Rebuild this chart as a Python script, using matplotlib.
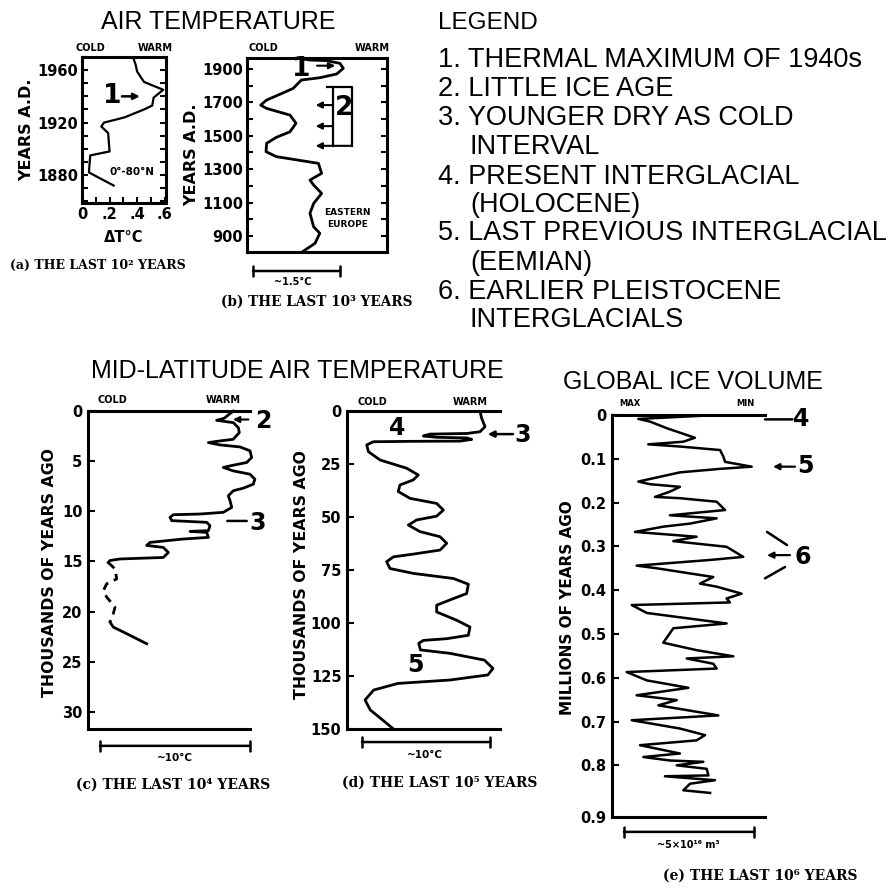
import matplotlib
matplotlib.use("Agg")
import matplotlib.pyplot as plt

# ---- data ----
# (a) last 100 years, 0-80N
years_a = [1970, 1964, 1959, 1951, 1945, 1939, 1933, 1930, 1924, 1920, 1917, 1912, 1898, 1895, 1882, 1872]
dt_a = [0.37, 0.39, 0.40, 0.45, 0.59, 0.52, 0.51, 0.45, 0.31, 0.16, 0.14, 0.19, 0.20, 0.06, 0.05, 0.23]

# (b) last 1000 years, eastern europe (x = fraction of box, cold -> warm)
years_b = [802, 856, 916, 955, 1036, 1095, 1155, 1205, 1235, 1275, 1335, 1359, 1375, 1405, 1455,
           1491, 1524, 1575, 1624, 1664, 1684, 1714, 1758, 1784, 1834, 1848, 1870, 1904, 1934,
           1950, 1954, 1958, 1962]
temp_b = [0.39, 0.486, 0.52, 0.476, 0.45, 0.476, 0.533, 0.476, 0.45, 0.533, 0.51, 0.33, 0.21, 0.136, 0.14,
          0.21, 0.307, 0.35, 0.307, 0.14, 0.098, 0.14, 0.26, 0.33, 0.388, 0.521, 0.64, 0.688, 0.664,
          0.569, 0.45, 0.414, 0.393]

# (c) last 10^4 years (thousands of years ago)
age_c = [0, 0.73, 0.93, 1.16, 1.66, 2.15, 2.82, 2.98, 3.15, 3.38, 3.58, 3.97, 4.64, 5.13, 5.47, 5.63,
         5.97, 6.3, 6.8, 7.3, 7.69, 7.95, 8.45, 8.95, 9.61, 10.1, 10.27, 10.34, 10.6, 10.93, 11.0,
         11.1, 11.43, 11.93, 12.0, 12.1, 12.6, 12.76, 13.1, 13.4, 13.6, 14.1, 14.6, 14.75, 14.9, 15.1]
temp_c = [0.897, 0.84, 0.794, 0.897, 0.928, 0.934, 0.897, 0.815, 0.743, 0.815, 0.938, 1.0, 1.01, 0.98,
          0.877, 0.835, 0.897, 1.0, 1.03, 1.02, 0.959, 0.897, 0.866, 0.877, 0.887, 0.835, 0.691, 0.527,
          0.506, 0.517, 0.609, 0.733, 0.753, 0.743, 0.63, 0.733, 0.743, 0.588, 0.383, 0.362, 0.465,
          0.496, 0.465, 0.198, 0.136, 0.125]
age_c_dash = [15.1, 15.74, 16.74, 17.23, 17.9, 18.55, 19.55, 20.2, 21.04]
temp_c_dash = [0.125, 0.167, 0.177, 0.115, 0.095, 0.115, 0.167, 0.156, 0.136]
age_c_old = [21.04, 21.54, 22.2, 23.2]
temp_c_old = [0.136, 0.156, 0.239, 0.362]

# (d) last 10^5 years
age_d = [0, 3.4, 7.4, 9.8, 10.6, 10.9, 11.8, 12.4, 12.7, 13.4, 14.2, 14.3, 14.5, 16.0, 19.2, 23.1,
         27.0, 30.2, 32.5, 34.9, 38.0, 41.2, 43.6, 46.7, 49.6, 51.4, 53.8, 56.9, 59.3, 62.4, 65.6,
         67.5, 68.8, 71.1, 74.3, 76.6, 79.0, 81.7, 86.1, 88.5, 91.6, 94.8, 98.7, 101.9, 105.8, 107.4,
         108.2, 109.6, 112.7, 114.3, 117.5, 121.4, 124.5, 126.9, 128.5, 131.6, 136.3, 141, 145, 149.7]
temp_d = [0.869, 0.88, 0.902, 0.869, 0.782, 0.542, 0.499, 0.586, 0.782, 0.815, 0.739, 0.433, 0.172,
          0.129, 0.14, 0.216, 0.39, 0.466, 0.433, 0.346, 0.335, 0.412, 0.586, 0.63, 0.586, 0.455,
          0.401, 0.477, 0.608, 0.652, 0.608, 0.433, 0.303, 0.259, 0.281, 0.433, 0.695, 0.793, 0.782,
          0.695, 0.586, 0.586, 0.717, 0.804, 0.793, 0.652, 0.5, 0.469, 0.48, 0.672, 0.898, 0.954,
          0.921, 0.672, 0.333, 0.175, 0.118, 0.152, 0.22, 0.299]

# (e) global ice volume, last 10^6 years (x = fraction of box, max -> min)
age_e = [0, 0.009, 0.015, 0.03, 0.052, 0.061, 0.067, 0.072, 0.08, 0.095, 0.107, 0.118, 0.123, 0.131,
         0.152, 0.158, 0.164, 0.175, 0.187, 0.19, 0.198, 0.217, 0.229, 0.236, 0.248, 0.255, 0.267,
         0.278, 0.288, 0.301, 0.324, 0.331, 0.344, 0.35, 0.37, 0.385, 0.392, 0.408, 0.419, 0.428,
         0.434, 0.452, 0.476, 0.487, 0.52, 0.537, 0.551, 0.556, 0.568, 0.579, 0.587, 0.606, 0.623,
         0.64, 0.651, 0.663, 0.686, 0.697, 0.716, 0.731, 0.743, 0.754, 0.773, 0.781, 0.789, 0.792,
         0.8, 0.808, 0.823, 0.825, 0.834, 0.842, 0.857, 0.863]
ice_e = [0.684, 0.172, 0.248, 0.357, 0.542, 0.466, 0.237, 0.444, 0.706, 0.728, 0.739, 0.913, 0.706,
         0.444, 0.172, 0.248, 0.444, 0.379, 0.281, 0.444, 0.684, 0.739, 0.379, 0.684, 0.51, 0.335,
         0.15, 0.553, 0.401, 0.749, 0.858, 0.641, 0.161, 0.292, 0.662, 0.575, 0.684, 0.847, 0.749,
         0.771, 0.129, 0.227, 0.749, 0.401, 0.335, 0.553, 0.793, 0.488, 0.662, 0.684, 0.096, 0.227,
         0.499, 0.161, 0.423, 0.303, 0.695, 0.129, 0.444, 0.608, 0.553, 0.183, 0.444, 0.205, 0.379,
         0.597, 0.423, 0.619, 0.63, 0.346, 0.673, 0.51, 0.466, 0.641]

legend_lines = ["1. THERMAL MAXIMUM OF 1940s", "2. LITTLE ICE AGE", "3. YOUNGER DRY AS COLD",
                "    INTERVAL", "4. PRESENT INTERGLACIAL", "    (HOLOCENE)",
                "5. LAST PREVIOUS INTERGLACIAL", "    (EEMIAN)", "6. EARLIER PLEISTOCENE",
                "    INTERGLACIALS"]

# ---- figure ----
W, H = 889, 888
fig = plt.figure(figsize=(W / 100, H / 100), dpi=100)
SANS = ["Liberation Sans", "DejaVu Sans"]
NARROW = ["Liberation Sans Narrow", "DejaVu Sans"]
SERIF = ["DejaVu Serif"]
LW = 2.2


def box(l, t, r, b):
    return [l / W, 1 - b / H, (r - l) / W, (b - t) / H]


def put(px, py, s, **kw):
    kw.setdefault("ha", "center")
    kw.setdefault("va", "center")
    fig.text(px / W, 1 - py / H, s, **kw)


def small(px, py, s, size=7):
    put(px, py, s, fontsize=size, fontweight="bold")


def num(ax, x, y, s, size=17):
    ax.text(x, y, s, fontsize=size, fontweight="bold", family=NARROW,
            ha="center", va="center", clip_on=False)


def arrow(ax, head, tail, style="-|>", lw=1.8):
    ax.annotate("", xy=head, xytext=tail, annotation_clip=False,
                arrowprops=dict(arrowstyle=style, lw=lw, color="k", shrinkA=0, shrinkB=0,
                                mutation_scale=9))


def scalebar(ax, x0, x1, y):
    ax.annotate("", xy=(x1, y), xytext=(x0, y), xycoords="axes fraction",
                annotation_clip=False,
                arrowprops=dict(arrowstyle="|-|, widthA=0.35, widthB=0.35", lw=1.8,
                                color="k", shrinkA=0, shrinkB=0))


def ticklab(ax, size=10.5):
    for lab in ax.get_yticklabels() + ax.get_xticklabels():
        lab.set_fontweight("bold")
        lab.set_fontsize(size)


# titles and legend
put(218, 22, "AIR TEMPERATURE", fontsize=18, family=SANS)
put(297, 371, "MID-LATITUDE AIR TEMPERATURE", fontsize=18, family=SANS)
put(693, 382, "GLOBAL ICE VOLUME", fontsize=18, family=SANS)
put(438, 23, "LEGEND", fontsize=17.5, family=SANS, ha="left")
leg_y = [60, 89, 118, 147, 177, 205, 233, 263, 292, 320]
for yy, line in zip(leg_y, legend_lines):
    if line.startswith("    "):
        put(470, yy, line.strip(), fontsize=19.5, family=SANS, ha="left")
    else:
        put(438, yy, line, fontsize=19.5, family=SANS, ha="left")

# ---- (a) ----
ax = fig.add_axes(box(82, 57, 166, 203))
ax.plot(dt_a, years_a, color="k", lw=1.6)
ax.set_xlim(0, 0.61)
ax.set_ylim(1858.7, 1970)
ax.set_yticks([1880, 1920, 1960])
ax.set_yticks(range(1860, 1971, 10), minor=True)
ax.set_xticks([0, 0.2, 0.4, 0.6])
ax.set_xticklabels(["0", ".2", ".4", ".6"])
ax.set_xticks([0.1, 0.3, 0.5], minor=True)
ax.tick_params(which="both", direction="in", left=True, right=True, width=1.5, length=4, pad=3)
ticklab(ax)
for s in ax.spines.values():
    s.set_linewidth(LW)
num(ax, 0.22, 1940, "1", 19)
arrow(ax, (0.42, 1940), (0.29, 1940))
ax.text(0.36, 1882, "0°-80°N", fontsize=7.5, fontweight="bold", ha="center", va="center")
small(90, 48, "COLD")
small(155, 48, "WARM")
put(27, 130, "YEARS A.D.", rotation=90, fontsize=11.5, fontweight="bold")
put(124, 237, "ΔT°C", fontsize=10.5, fontweight="bold")
put(98, 265, "(a) THE LAST 10² YEARS", fontsize=9, fontweight="bold", family=SERIF)

# ---- (b) ----
ax = fig.add_axes(box(247, 58, 387, 252))
ax.plot(temp_b, years_b, color="k", lw=2.0)
ax.set_xlim(0, 1)
ax.set_ylim(804, 1966)
ax.set_yticks(range(900, 1901, 200))
ax.set_yticks(range(900, 1901, 100), minor=True)
ax.set_xticks([])
ax.tick_params(which="both", direction="in", left=True, right=True, width=1.5, length=4, pad=3)
ticklab(ax)
for s in ax.spines.values():
    s.set_linewidth(LW)
num(ax, 0.39, 1900, "1", 19)
arrow(ax, (0.63, 1920), (0.5, 1920), lw=1.5)
# little ice age bracket
ax.plot([0.57, 0.75, 0.75], [1794, 1794, 1440], color="k", lw=1.6)
ax.plot([0.615, 0.615], [1794, 1440], color="k", lw=1.6)
for yy, x1 in [(1684, 0.615), (1558, 0.615), (1440, 0.75)]:
    arrow(ax, (0.49, yy), (x1, yy), lw=1.5)
num(ax, 0.69, 1665, "2", 19)
ax.text(0.72, 1005, "EASTERN\nEUROPE", fontsize=6.5, fontweight="bold", ha="center", va="center",
        linespacing=1.4)
small(263, 48, "COLD")
small(372, 48, "WARM")
put(192, 155, "YEARS A.D.", rotation=90, fontsize=11.5, fontweight="bold")
scalebar(ax, 0.043, 0.664, -0.098)
small(293, 282, "~1.5°C", 7)
put(317, 302, "(b) THE LAST 10³ YEARS", fontsize=9.8, fontweight="bold", family=SERIF)


def lower_axes(rect, ylim, ticks, labels):
    a = fig.add_axes(rect)
    a.set_xlim(0, 1)
    a.set_ylim(*ylim)
    a.set_yticks(ticks)
    a.set_yticklabels(labels)
    a.set_xticks([])
    a.spines["right"].set_visible(False)
    for s in ("left", "top", "bottom"):
        a.spines[s].set_linewidth(LW)
    a.tick_params(axis="y", direction="in", width=1.5, length=5, pad=4)
    ticklab(a, 10.5)
    return a


# ---- (c) ----
ax = lower_axes(box(88, 411, 250, 729), (31.7, 0), range(0, 31, 5),
                [str(v) for v in range(0, 31, 5)])
ax.plot(temp_c, age_c, color="k", lw=2.0, clip_on=False)
ax.plot(temp_c_dash, age_c_dash, color="k", lw=2.0, ls=(0, (3, 2.2)))
ax.plot(temp_c_old, age_c_old, color="k", lw=2.0)
arrow(ax, (0.895, 0.85), (0.99, 0.85), lw=1.5)
num(ax, 1.085, 0.95, "2")
arrow(ax, (0.86, 10.96), (0.98, 10.96), style="-", lw=1.8)
num(ax, 1.05, 11.2, "3")
small(112, 400, "COLD")
small(223, 400, "WARM")
put(50, 573, "THOUSANDS OF YEARS AGO", rotation=90, fontsize=11.3, fontweight="bold")
scalebar(ax, 0.074, 1.0, -0.053)
small(175, 758, "~10°C", 7.5)
put(173, 785, "(c) THE LAST 10⁴ YEARS", fontsize=10, fontweight="bold", family=SERIF)

# ---- (d) ----
ax = lower_axes(box(347, 411, 500, 729), (150, 0), range(0, 151, 25),
                [str(v) for v in range(0, 151, 25)])
ax.plot(temp_d, age_d, color="k", lw=2.0)
num(ax, 0.33, 8.0, "4")
arrow(ax, (0.92, 10.9), (1.085, 10.9), lw=1.8)
num(ax, 1.145, 11.3, "3")
num(ax, 0.445, 119.8, "5")
small(372, 402, "COLD")
small(470, 402, "WARM")
put(302, 575, "THOUSANDS OF YEARS AGO", rotation=90, fontsize=11.3, fontweight="bold")
scalebar(ax, 0.098, 0.935, -0.041)
small(425, 755, "~10°C", 7.5)
put(440, 783, "(d) THE LAST 10⁵ YEARS", fontsize=10, fontweight="bold", family=SERIF)

# ---- (e) ----
e_ticks = [0, 0.1, 0.2, 0.3, 0.4, 0.5, 0.6, 0.7, 0.8, 0.918]
e_labels = ["0", "0.1", "0.2", "0.3", "0.4", "0.5", "0.6", "0.7", "0.8", "0.9"]
ax = lower_axes(box(612, 415, 765, 817), (0.918, 0), e_ticks, e_labels)
ax.plot(ice_e, age_e, color="k", lw=1.8)
arrow(ax, (1.0, 0.01), (1.18, 0.01), style="-", lw=1.8)
num(ax, 1.235, 0.008, "4")
arrow(ax, (1.052, 0.118), (1.196, 0.118), lw=1.6)
num(ax, 1.265, 0.117, "5")
arrow(ax, (1.013, 0.267), (1.144, 0.297), style="-", lw=1.8)
arrow(ax, (1.013, 0.32), (1.163, 0.32), lw=1.6)
arrow(ax, (1.0, 0.373), (1.131, 0.347), style="-", lw=1.8)
num(ax, 1.25, 0.325, "6")
small(630, 403, "MAX", 6)
small(745, 403, "MIN", 6)
put(567, 608, "MILLIONS OF YEARS AGO", rotation=90, fontsize=11, fontweight="bold")
scalebar(ax, 0.078, 0.928, -0.037)
small(688, 845, "~5×10¹⁶ m³", 7)
put(760, 876, "(e) THE LAST 10⁶ YEARS", fontsize=10, fontweight="bold", family=SERIF)

fig.savefig("out.png", dpi=100)
